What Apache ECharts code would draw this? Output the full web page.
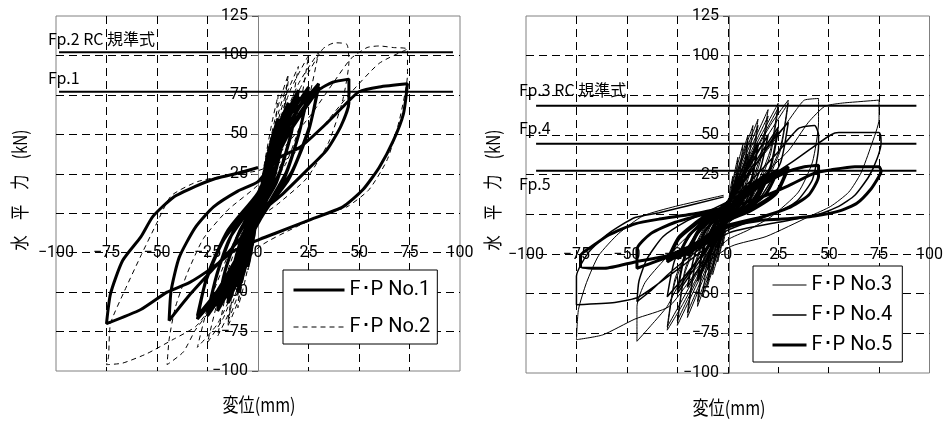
<!DOCTYPE html>
<html>
  <head>
    <meta charset="UTF-8" />
    <title></title>
    <style type="text/css">
      html,
      body {
        width: 100%;
        height: 100%;
        margin: 0;
        padding: 0;
        overflow: hidden;
        background: #fff;
      }
      #chart {
        width: 946px;
        height: 421px;
      }
    </style>
  </head>
  <body>
    <div id="chart"></div>
    <script src="https://cdn.jsdelivr.net/npm/echarts@6/dist/echarts.min.js"></script>
    <script type="text/javascript">
      // tick values
      const xTicks = [-100, -75, -50, -25, 0, 25, 50, 75, 100];
      const yTicks = [-100, -75, -50, -25, 0, 25, 50, 75, 100, 125];

      // legend names
      const leftNames = ["F･P No.1", "F･P No.2"];
      const rightNames = ["F･P No.3", "F･P No.4", "F･P No.5"];

      // capacity lines (kN) and their x extent (mm)
      const leftCapNames = ["Fp.2 RC 規準式", "Fp.1"];
      const leftCapValues = [102, 77];
      const leftCapX = [-98.5, 96.5];
      const rightCapNames = ["Fp.3 RC 規準式", "Fp.4", "Fp.5"];
      const rightCapValues = [68.5, 44.5, 27.5];
      const rightCapX = [-95, 93.5];

      // hysteresis loops [displacement mm, force kN]
      const fp1 = [
        [0, 0],
        [2, 18], [4, 32], [5, 38], [4, 26], [2, 10], [0, 2], [-2, -14], [-4, -28], [-5, -34], [-4, -22], [-2, -8], [0, 4],
        [2, 16], [5, 35], [4, 22], [2, 8], [0, 1], [-2, -12], [-5, -31], [-4, -19], [-2, -6], [0, 3],
        [3, 25], [7, 48], [10, 60], [8, 40], [5, 20], [0, 3], [-3, -18], [-7, -38], [-10, -50], [-8, -32], [-5, -15], [0, 4],
        [3, 22], [7, 44], [10, 56], [8, 36], [5, 17], [0, 2], [-3, -16], [-7, -35], [-10, -47], [-8, -29], [-5, -12], [0, 5],
        [4, 28], [10, 55], [15, 70], [12, 48], [7, 22], [0, 2], [-5, -22], [-10, -42], [-15, -57], [-12, -36], [-7, -15], [0, 5],
        [4, 24], [10, 50], [15, 66], [12, 44], [7, 19], [0, 1], [-5, -19], [-10, -39], [-15, -54], [-12, -33], [-7, -12], [0, 6],
        [5, 30], [13, 60], [20, 78], [17, 54], [11, 27], [2, 2], [-7, -26], [-14, -48], [-20, -62], [-17, -40], [-11, -17], [0, 8],
        [5, 27], [13, 56], [20, 74], [16, 48], [9, 19], [0, -1], [-7, -23], [-14, -45], [-20, -60], [-16, -35], [-9, -11], [0, 9],
        [7, 35], [16, 62], [25, 80], [21, 54], [14, 26], [2, -1], [-9, -28], [-17, -50], [-25, -65], [-21, -42], [-14, -16], [0, 10],
        [7, 32], [16, 58], [25, 77], [20, 49], [12, 19], [0, -3], [-9, -25], [-17, -47], [-25, -63], [-20, -37], [-12, -11], [0, 11],
        [9, 38], [20, 66], [30, 82], [26, 57], [17, 27], [2, -2], [-10, -30], [-20, -52], [-30, -67], [-26, -44], [-17, -17], [0, 12],
        [9, 35], [20, 62], [30, 80], [25, 52], [15, 21], [0, -4], [-10, -27], [-20, -49], [-30, -65], [-25, -39], [-15, -11], [0, 13],
        [10, 40], [20, 60], [30, 78], [37, 83], [45, 85], [45, 70], [41, 55], [34, 40], [24, 27], [12, 12], [1, 0],
        [-10, -18], [-22, -35], [-34, -52], [-44, -68], [-43, -49], [-39, -28], [-31, -9], [-22, 4], [-10, 14], [0, 20],
        [9, 34], [21, 42], [34, 57], [44, 70], [50, 77], [60, 80], [74, 82], [72, 63], [67, 46], [60, 29], [52, 15], [42, 4],
        [26, -4], [8, -13], [0, -17], [-12, -24], [-22, -34], [-34, -44], [-45, -50], [-58, -61], [-75, -70],
        [-73, -51], [-67, -30], [-58, -15], [-52, -2], [-42, 10], [-31, 17], [-21, 22], [-8, 26], [0, 29]
      ];
      const fp2 = [
        [0, 0],
        [2, 22], [5, 42], [3, 25], [0, 5], [-2, -18], [-5, -36], [-3, -20], [0, 2],
        [3, 30], [7, 58], [10, 75], [8, 50], [4, 22], [0, 4], [-3, -22], [-7, -46], [-10, -60], [-8, -38], [-4, -14], [0, 6],
        [4, 34], [10, 68], [15, 88], [12, 60], [6, 26], [0, 4], [-5, -28], [-10, -56], [-15, -72], [-12, -48], [-6, -18], [0, 8],
        [4, 30], [10, 63], [15, 84], [12, 56], [6, 23], [0, 3], [-5, -25], [-10, -52], [-15, -69], [-12, -45], [-6, -15], [0, 7],
        [6, 40], [13, 72], [20, 93], [16, 64], [8, 28], [0, 4], [-7, -34], [-14, -62], [-20, -78], [-16, -52], [-8, -20], [0, 10],
        [7, 44], [16, 78], [25, 100], [21, 70], [11, 30], [0, 4], [-9, -38], [-17, -66], [-25, -82], [-20, -56], [-11, -22], [0, 12],
        [9, 48], [20, 82], [30, 102], [25, 72], [14, 32], [0, 4], [-10, -42], [-20, -70], [-30, -85], [-25, -60], [-14, -24], [0, 14],
        [10, 50], [22, 82], [32, 104], [38, 108], [44, 107], [45, 96], [42, 72], [35, 45], [24, 22], [10, 6], [0, -4],
        [-12, -36], [-24, -62], [-31, -74], [-37, -88], [-45, -96], [-44, -80], [-41, -60], [-35, -38], [-27, -16], [-15, 2], [0, 18],
        [12, 40], [26, 62], [38, 84], [46, 98], [54, 105], [60, 106], [67, 105], [74, 104], [74, 88], [70, 59], [64, 34],
        [55, 15], [44, 4], [34, 0], [20, -8], [0, -22], [-24, -61], [-31, -72], [-42, -80], [-55, -89], [-67, -95], [-75, -96],
        [-74, -91], [-73, -70], [-66, -49], [-58, -27], [-50, -6], [-43, 11], [-30, 20], [-15, 24], [0, 27],
        [15, 35], [30, 52], [45, 75], [60, 95], [74, 104]
      ];
      const fp3 = [
        [0, 0],
        [1, 14], [2.5, 24], [2, 12], [0, 2], [-1, -10], [-2.5, -20], [-2, -9], [0, 3],
        [2, 18], [5, 36], [4, 20], [2, 6], [0, 0], [-2, -14], [-5, -30], [-4, -16], [-2, -4], [0, 4],
        [3, 22], [7.5, 44], [6, 26], [3, 8], [0, 0], [-3, -18], [-7.5, -38], [-6, -20], [-3, -5], [0, 5],
        [4, 24], [10, 50], [8, 28], [4, 8], [0, -1], [-4, -20], [-10, -45], [-8, -24], [-4, -6], [0, 6],
        [4, 22], [10, 46], [8, 25], [4, 6], [0, -2], [-4, -18], [-10, -42], [-8, -22], [-4, -5], [0, 5],
        [5, 28], [12.5, 56], [10, 32], [5, 8], [0, -2], [-5, -24], [-12.5, -52], [-10, -28], [-5, -6], [0, 6],
        [6, 30], [15, 60], [12, 34], [6, 9], [0, -2], [-6, -26], [-15, -58], [-12, -30], [-6, -6], [0, 7],
        [6, 28], [15, 56], [12, 31], [6, 7], [0, -3], [-6, -24], [-15, -55], [-12, -28], [-6, -5], [0, 6],
        [8, 32], [20, 66], [16, 36], [8, 8], [0, -3], [-8, -28], [-20, -65], [-16, -32], [-8, -6], [0, 8],
        [8, 30], [20, 62], [16, 33], [8, 6], [0, -4], [-8, -26], [-20, -62], [-16, -30], [-8, -5], [0, 7],
        [10, 34], [25, 70], [21, 40], [11, 10], [0, -4], [-10, -30], [-25, -70], [-21, -36], [-11, -8], [0, 8],
        [10, 32], [25, 67], [21, 37], [11, 8], [0, -5], [-10, -28], [-25, -67], [-21, -34], [-11, -7], [0, 7],
        [12, 36], [22, 58], [30, 72], [26, 42], [14, 10], [0, -5], [-12, -32], [-22, -56], [-30, -73], [-26, -42], [-14, -10], [0, 9],
        [12, 34], [30, 70], [26, 40], [14, 8], [0, -6], [-12, -30], [-30, -71], [-26, -40], [-14, -9], [0, 8],
        [12, 28], [24, 48], [34, 66], [38, 72], [45, 73], [45, 58], [42, 33], [35, 14], [22, -1], [10, -10], [0, -16],
        [-12, -30], [-24, -44], [-30, -58], [-38, -70], [-45, -80], [-45, -58], [-41, -43], [-31, -28], [-20, -14], [-10, -4], [0, 6],
        [15, 22], [30, 40], [40, 58], [48, 68], [56, 70], [65, 71], [75, 72], [75, 60], [71, 43], [66, 26], [60, 14], [51, 5],
        [41, -1], [19, -14], [2, -20], [-14, -34], [-29, -58], [-46, -66], [-62, -76], [-75, -79],
        [-74, -60], [-70, -43], [-64, -26], [-54, -12], [-42, -1], [-26, 5], [-2, 12]
      ];
      const fp4 = [
        [0, 0],
        [2, 12], [5, 25], [4, 14], [2, 4], [0, 0], [-2, -10], [-5, -22], [-4, -12], [-2, -3], [0, 3],
        [4, 18], [10, 38], [8, 20], [4, 5], [0, -1], [-4, -15], [-10, -35], [-8, -18], [-4, -4], [0, 4],
        [6, 22], [15, 45], [12, 24], [6, 6], [0, -2], [-6, -18], [-15, -42], [-12, -22], [-6, -5], [0, 5],
        [6, 20], [15, 43], [12, 22], [6, 5], [0, -3], [-6, -16], [-15, -40], [-12, -20], [-6, -4], [0, 4],
        [8, 24], [20, 50], [16, 28], [8, 6], [0, -3], [-8, -20], [-20, -46], [-16, -24], [-8, -4], [0, 6],
        [10, 26], [25, 55], [21, 30], [11, 7], [0, -4], [-10, -22], [-25, -50], [-21, -26], [-11, -5], [0, 7],
        [10, 24], [25, 53], [21, 28], [11, 6], [0, -5], [-10, -20], [-25, -48], [-21, -24], [-11, -4], [0, 6],
        [12, 28], [22, 46], [30, 58], [26, 32], [14, 7], [0, -5], [-12, -24], [-22, -40], [-30, -52], [-26, -28], [-14, -6], [0, 8],
        [12, 22], [24, 38], [35, 54], [43, 56], [45, 50], [45, 43], [42, 22], [34, 8], [22, 0], [10, -5], [0, -10],
        [-14, -22], [-28, -36], [-38, -48], [-45, -55], [-44, -42], [-40, -28], [-32, -14], [-20, -4], [-8, 3], [0, 8],
        [16, 20], [32, 33], [43, 43], [51, 50], [55, 51.5], [65, 51.5], [75, 51.5], [76, 45], [74, 35], [70, 24], [63, 12],
        [55, 5], [45, 0], [25, -5], [0, -12], [-22, -32], [-44, -52], [-56, -55.6], [-75, -57],
        [-75, -39], [-69, -24], [-59, -12], [-46, -2], [-34, 1], [-2, 11]
      ];
      const fp5 = [
        [0, 0],
        [2, 6], [5, 12], [3, 5], [0, 0], [-2, -5], [-5, -12], [-3, -5], [0, 1],
        [4, 10], [10, 18], [7, 8], [3, 2], [0, 0], [-4, -9], [-10, -18], [-7, -8], [-3, -2], [0, 2],
        [6, 12], [15, 22], [11, 10], [5, 2], [0, -1], [-6, -11], [-15, -22], [-11, -10], [-5, -2], [0, 3],
        [8, 14], [20, 26], [15, 12], [7, 2], [0, -2], [-8, -13], [-20, -26], [-15, -12], [-7, -2], [0, 3],
        [8, 13], [20, 25], [15, 11], [7, 1], [0, -3], [-8, -12], [-20, -25], [-15, -11], [-7, -1], [0, 2],
        [10, 16], [25, 28], [19, 13], [9, 3], [0, -2], [-10, -14], [-25, -28], [-19, -13], [-9, -2], [0, 4],
        [12, 17], [30, 30], [24, 14], [11, 3], [0, -3], [-12, -16], [-30, -30], [-24, -15], [-11, -2], [0, 4],
        [12, 16], [30, 29], [24, 13], [11, 2], [0, -4], [-12, -15], [-30, -29], [-24, -14], [-11, -1], [0, 3],
        [14, 16], [28, 26], [38, 30], [45, 31], [45, 24], [40, 12], [30, 4], [16, -2], [0, -7],
        [-14, -17], [-30, -27], [-45, -34], [-45, -22], [-38, -12], [-26, -5], [-12, 0], [0, 4],
        [15, 10], [30, 18], [43, 26], [51, 28], [63, 30], [75, 30], [76, 27], [75, 24], [71, 16], [64, 7], [55, 2],
        [43, -1], [27, -3], [15, -4], [0, -8], [-15, -18], [-30, -26], [-46, -30], [-61, -34], [-73, -33],
        [-73, -26], [-67, -20], [-59, -13], [-46, -6], [-34, -3], [-18, 0], [-2, 4]
      ];

      const numFont = "'Liberation Sans Narrow', 'Roboto', 'Liberation Sans', sans-serif";
      const jpFont = "'Noto Sans CJK JP', sans-serif";
      const minus = (v) => String(v).replace("-", "\u2212");
      const dash = { color: "#000", type: [8, 5], width: 1 };

      const makeX = (idx) => ({
        type: "value",
        gridIndex: idx,
        min: xTicks[0],
        max: xTicks[xTicks.length - 1],
        interval: 25,
        position: "bottom",
        offset: -118,
        axisLine: { show: false, onZero: false },
        axisTick: { show: false },
        axisLabel: {
          margin: 0,
          verticalAlign: "middle",
          color: "#000",
          fontSize: 16,
          fontFamily: numFont,
          formatter: (v) => minus(v),
        },
        splitLine: { show: true, showMinLine: false, showMaxLine: false, lineStyle: dash },
      });
      const makeY = (idx, off) => ({
        type: "value",
        gridIndex: idx,
        min: yTicks[0],
        max: yTicks[yTicks.length - 1],
        interval: 25,
        position: "left",
        offset: off,
        axisLine: { show: true, onZero: false, lineStyle: { color: "#808080", width: 1 } },
        axisTick: { show: true, length: 6, lineStyle: { color: "#555" } },
        axisLabel: {
          margin: 10,
          color: "#000",
          fontSize: 16,
          fontFamily: numFont,
          formatter: (v) => (v === 0 || v === -25 ? "" : minus(v)),
        },
        splitLine: { show: true, showMinLine: false, showMaxLine: false, lineStyle: dash },
      });

      const loop = (name, idx, data, width, type) => ({
        name: name,
        type: "line",
        xAxisIndex: idx,
        yAxisIndex: idx,
        data: data,
        symbol: "none",
        smooth: 0.2,
        z: 3,
        lineStyle: { color: "#000", width: width, type: type },
        itemStyle: { color: "#000" },
        animation: false,
      });

      const capLine = (name, idx, value, xr, pos, off) => ({
        type: "line",
        xAxisIndex: idx,
        yAxisIndex: idx,
        symbol: "circle",
        symbolSize: 1,
        showSymbol: true,
        z: 5,
        silent: true,
        animation: false,
        itemStyle: { color: "rgba(0,0,0,0)" },
        lineStyle: { color: "#000", width: 2 },
        data: [
          {
            value: [xr[0], value],
            label: {
              show: true,
              position: pos,
              align: "left",
              offset: off,
              formatter: name,
              color: "#000",
              fontSize: 16,
              fontFamily: jpFont,
            },
          },
          [xr[1], value],
        ],
      });

      const series = [
        loop(leftNames[0], 0, fp1, 3, "solid"),
        loop(leftNames[1], 0, fp2, 1, [5, 4]),
        loop(rightNames[0], 1, fp3, 1, "solid"),
        loop(rightNames[1], 1, fp4, 1.5, "solid"),
        loop(rightNames[2], 1, fp5, 3, "solid"),
      ];
      leftCapNames.forEach((n, i) => {
        series.push(capLine(n, 0, leftCapValues[i], leftCapX, "top", [-11, 0]));
      });
      rightCapNames.forEach((n, i) => {
        const below = i === 2;
        series.push(capLine(n, 1, rightCapValues[i], rightCapX, below ? "bottom" : "top", [-17, below ? 0 : -2]));
      });

      const legendText = { color: "#000", fontSize: 20, fontFamily: numFont, lineHeight: 22 };
      const legendBase = {
        orient: "vertical",
        itemHeight: 14,
        backgroundColor: "#fff",
        borderColor: "#000",
        borderWidth: 1,
        borderRadius: 0,
        z: 10,
        itemStyle: { opacity: 0 },
        lineStyle: { width: "inherit" },
        textStyle: legendText,
      };

      const option = {
        backgroundColor: "#fff",
        animation: false,
        grid: [
          { left: 56, top: 16, width: 404, height: 355, show: true, borderColor: "#808080", borderWidth: 1 },
          { left: 526, top: 16, width: 406, height: 357, show: true, borderColor: "#808080", borderWidth: 1 },
        ],
        xAxis: [makeX(0), makeX(1)],
        yAxis: [makeY(0, -202), makeY(1, -203)],
        legend: [
          Object.assign({}, legendBase, {
            data: leftNames,
            left: 283,
            top: 270,
            itemWidth: 51,
            itemGap: 15,
            padding: [9, 7, 6, 9],
          }),
          Object.assign({}, legendBase, {
            data: rightNames,
            left: 753,
            top: 266,
            itemWidth: 34,
            itemGap: 8,
            padding: [8, 10, 6, 18],
          }),
        ],
        graphic: [
          {
            type: "text",
            x: 20,
            y: 190,
            rotation: Math.PI / 2,
            scaleX: 0.8,
            style: { text: "水　平　力　(kN)", font: "19px " + jpFont, fill: "#000", align: "center", verticalAlign: "middle" },
          },
          {
            type: "text",
            x: 493,
            y: 190,
            rotation: Math.PI / 2,
            scaleX: 0.8,
            style: { text: "水　平　力　(kN)", font: "19px " + jpFont, fill: "#000", align: "center", verticalAlign: "middle" },
          },
          {
            type: "text",
            x: 259,
            y: 405,
            scaleX: 0.85,
            style: { text: "変位(mm)", font: "19px " + jpFont, fill: "#000", align: "center", verticalAlign: "middle" },
          },
          {
            type: "text",
            x: 729,
            y: 408,
            scaleX: 0.85,
            style: { text: "変位(mm)", font: "19px " + jpFont, fill: "#000", align: "center", verticalAlign: "middle" },
          },
        ],
        series: series,
      };

      const chart = echarts.init(document.getElementById("chart"), null, { renderer: "canvas" });
      chart.setOption(option);
    </script>
  </body>
</html>
